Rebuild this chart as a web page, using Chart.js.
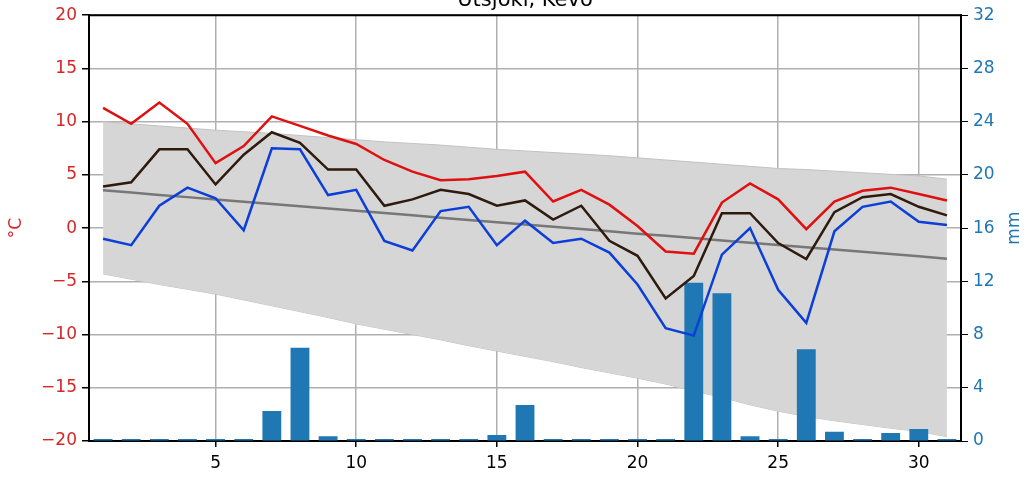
<!DOCTYPE html>
<html>
<head>
<meta charset="utf-8">
<script src="https://cdn.jsdelivr.net/npm/chart.js@4/dist/chart.umd.min.js"></script>
<style>
html, body { margin: 0; padding: 0; background: #fff; }
</style>
</head>
<body>
<canvas id="chart" width="1034" height="484"></canvas>
<script>
var days = [1, 2, 3, 4, 5, 6, 7, 8, 9, 10, 11, 12, 13, 14, 15, 16,
            17, 18, 19, 20, 21, 22, 23, 24, 25, 26, 27, 28, 29, 30, 31];
var xTicks = [5, 10, 15, 20, 25, 30];

// daily max / mean / min temperature, C
var tMax  = [11.3, 9.8, 11.8, 9.8, 6.1, 7.7, 10.5, 9.6, 8.7, 7.9, 6.4, 5.3, 4.5, 4.6, 4.9, 5.3,
             2.5, 3.6, 2.2, 0.2, -2.2, -2.4, 2.4, 4.2, 2.7, -0.1, 2.5, 3.5, 3.8, 3.2, 2.6];
var tMean = [3.9, 4.3, 7.4, 7.4, 4.1, 6.9, 9.0, 8.0, 5.5, 5.5, 2.1, 2.7, 3.6, 3.2, 2.1, 2.6,
             0.8, 2.1, -1.2, -2.6, -6.6, -4.5, 1.4, 1.4, -1.4, -2.9, 1.5, 2.9, 3.2, 2.0, 1.2];
var tMin  = [-1.0, -1.6, 2.1, 3.8, 2.8, -0.2, 7.5, 7.4, 3.1, 3.6, -1.2, -2.1, 1.6, 2.0, -1.6, 0.7,
             -1.4, -1.0, -2.3, -5.3, -9.4, -10.1, -2.5, 0.0, -5.8, -8.9, -0.3, 2.0, 2.5, 0.6, 0.3];

// long term mean and the range around it
var normMean = [3.55, 3.34, 3.12, 2.91, 2.69, 2.48, 2.27, 2.05, 1.84, 1.62, 1.41, 1.2, 0.98, 0.77, 0.55, 0.34,
                0.13, -0.09, -0.3, -0.52, -0.73, -0.94, -1.16, -1.37, -1.58, -1.8, -2.01, -2.23, -2.44, -2.65, -2.87];
var normHigh = [10.0, 9.8, 9.6, 9.4, 9.2, 9.05, 8.9, 8.7, 8.5, 8.3, 8.1, 7.95, 7.8, 7.6, 7.4, 7.25,
                7.1, 6.95, 6.8, 6.6, 6.4, 6.2, 6.0, 5.8, 5.6, 5.5, 5.35, 5.2, 5.05, 4.9, 4.6];
var normLow  = [-4.3, -4.8, -5.3, -5.75, -6.2, -6.75, -7.3, -7.85, -8.4, -9.0, -9.5, -10.0, -10.5, -11.05, -11.55, -12.05,
                -12.55, -13.1, -13.6, -14.1, -14.65, -15.3, -15.9, -16.6, -17.2, -17.7, -18.1, -18.45, -18.8, -19.1, -19.6];

// daily precipitation, mm
var precip = [0.15, 0.15, 0.15, 0.15, 0.15, 0.15, 2.25, 7.0, 0.35, 0.15, 0.15, 0.15, 0.15, 0.15, 0.45, 2.7,
              0.15, 0.15, 0.15, 0.15, 0.15, 11.9, 11.1, 0.35, 0.15, 6.9, 0.7, 0.15, 0.6, 0.9, 0.15];

var FONT = 'DejaVu Sans';

function points(values) {
    return days.map(function(d, i) { return {x: d, y: values[i]}; });
}

function minusSign(v) {
    return String(v).replace('-', '\u2212');
}

function lineSet(values, color, width, order) {
    return {
        type: 'line',
        data: points(values),
        borderColor: color,
        borderWidth: width,
        pointRadius: 0,
        tension: 0,
        fill: false,
        order: order
    };
}

//top spine, the clipped title and the right axis label:
var frame = {
    id: 'frame',
    afterDraw: function(chart) {
        var ctx = chart.ctx, a = chart.chartArea;
        ctx.save();
        ctx.strokeStyle = '#000';
        ctx.lineWidth = 2;
        ctx.beginPath();
        ctx.moveTo(a.left - 1, a.top);
        ctx.lineTo(a.right + 1, a.top);
        ctx.stroke();

        ctx.fillStyle = '#000';
        ctx.font = '21px "' + FONT + '"';
        ctx.textAlign = 'center';
        ctx.textBaseline = 'alphabetic';
        ctx.fillText('Utsjoki, Kevo', (a.left + a.right) / 2, 6);

        ctx.translate(1015, (a.top + a.bottom) / 2);
        ctx.rotate(-Math.PI / 2);
        ctx.fillStyle = '#1f77b4';
        ctx.font = '17px "' + FONT + '"';
        ctx.textBaseline = 'middle';
        ctx.fillText('mm', 0, 0);
        ctx.restore();
    }
};

var lowSet = lineSet(normLow, '#c2c2c2', 1, 11);
var highSet = lineSet(normHigh, '#c2c2c2', 1, 10);
highSet.fill = '-1';
highSet.backgroundColor = '#d6d6d6';

var chart = new Chart(document.getElementById('chart'), {
    type: 'line',
    data: {
        datasets: [
            lowSet,
            highSet,
            {
                type: 'bar',
                data: points(precip),
                yAxisID: 'y1',
                backgroundColor: '#1f77b4',
                barPercentage: 0.67,
                categoryPercentage: 1,
                order: 5
            },
            lineSet(normMean, '#777777', 2.5, 4),
            lineSet(tMin, '#0b3fd8', 2.5, 3),
            lineSet(tMean, '#2e1a0e', 2.5, 2),
            lineSet(tMax, '#e01010', 2.5, 1)
        ]
    },
    options: {
        responsive: false,
        animation: false,
        events: [],
        layout: { padding: { top: 13, left: 0, right: 0, bottom: 0 } },
        plugins: {
            legend: { display: false },
            tooltip: { enabled: false }
        },
        scales: {
            x: {
                type: 'linear',
                min: 0.5,
                max: 31.5,
                offset: false,
                afterBuildTicks: function(scale) {
                    scale.ticks = xTicks.map(function(v) { return {value: v}; });
                },
                afterFit: function(scale) { scale.height = 43; },
                grid: { offset: false, color: '#b0b0b0', lineWidth: 1.5, tickColor: '#000', tickLength: 6 },
                border: { color: '#000', width: 2 },
                ticks: { color: '#000', font: { family: FONT, size: 17 }, padding: 6, maxRotation: 0, autoSkip: false }
            },
            y: {
                position: 'left',
                min: -20,
                max: 20,
                afterFit: function(scale) { scale.width = 89; },
                grid: { color: '#b0b0b0', lineWidth: 1.5, tickColor: '#000', tickLength: 7 },
                border: { color: '#000', width: 2 },
                ticks: { stepSize: 5, color: '#d62728', font: { family: FONT, size: 17 }, padding: 5, callback: minusSign },
                title: { display: true, text: '°C', color: '#d62728', font: { family: FONT, size: 17 }, padding: { top: 6, bottom: 0 } }
            },
            y1: {
                position: 'right',
                min: 0,
                max: 32,
                afterFit: function(scale) { scale.width = 73; },
                grid: { drawOnChartArea: false, tickColor: '#000', tickLength: 7 },
                border: { color: '#000', width: 2 },
                ticks: { stepSize: 4, color: '#1f77b4', font: { family: FONT, size: 17 }, padding: 5 }
            }
        }
    },
    plugins: [frame]
});
</script>
</body>
</html>
